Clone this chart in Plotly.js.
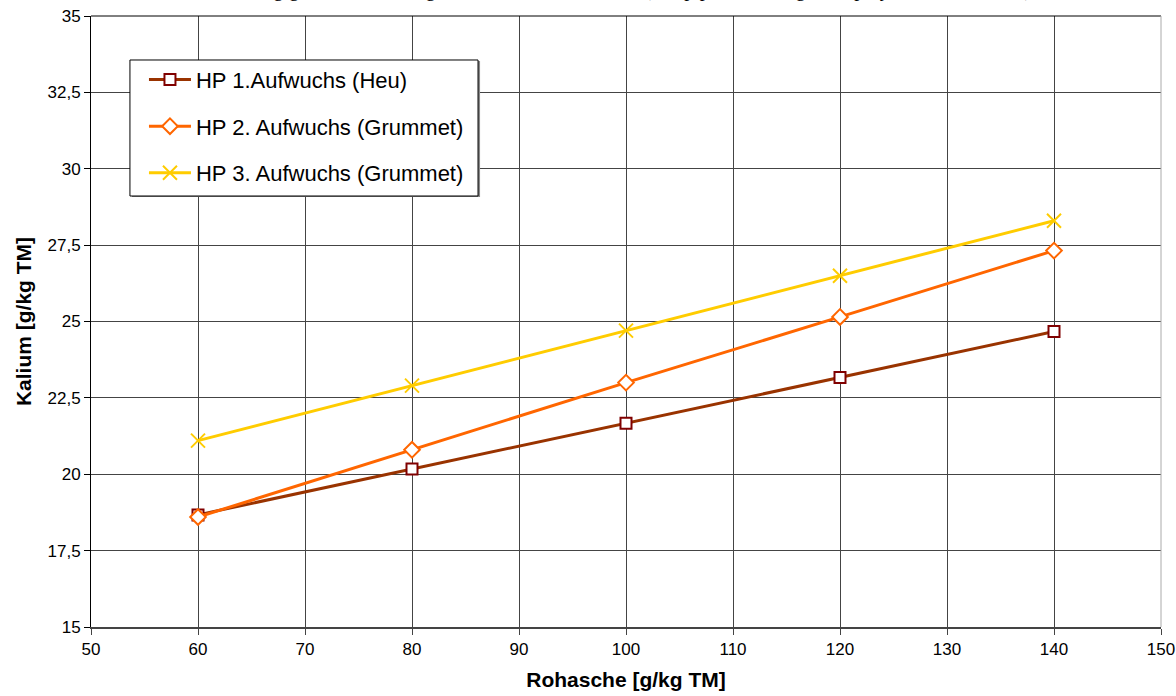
<!DOCTYPE html>
<html>
<head>
<meta charset="utf-8">
<script src="https://cdn.plot.ly/plotly-3.0.1.min.js"></script>
<style>
  html, body { margin: 0; padding: 0; background: #ffffff; }
  #chart { width: 1176px; height: 696px; }
</style>
</head>
<body>
<div id="chart"></div>
<script>
// Rohasche-Stufen (g/kg TM)
const rohasche = [60, 80, 100, 120, 140];

// Kaliumgehalt (g/kg TM) je Aufwuchs
const kaliumHeu = [18.67, 20.17, 21.67, 23.17, 24.67];
const kaliumGrummet2 = [18.6, 20.8, 23.0, 25.15, 27.32];
const kaliumGrummet3 = [21.1, 22.9, 24.7, 26.5, 28.3];

const seriesNames = [
  'HP 1.Aufwuchs (Heu)',
  'HP 2. Aufwuchs (Grummet)',
  'HP 3. Aufwuchs (Grummet)'
];

const yTicks = [15, 17.5, 20, 22.5, 25, 27.5, 30, 32.5, 35];
const xTicks = [50, 60, 70, 80, 90, 100, 110, 120, 130, 140, 150];

const traces = [
  {
    x: rohasche, y: kaliumHeu, name: seriesNames[0],
    type: 'scatter', mode: 'lines+markers', legendgroup: 'g1',
    line: { color: '#993300', width: 3 },
    marker: { symbol: 'square', size: 11, color: '#ffffff',
              line: { color: '#800000', width: 2 } }
  },
  {
    x: rohasche, y: kaliumGrummet2, name: seriesNames[1],
    type: 'scatter', mode: 'lines+markers', legendgroup: 'g2',
    line: { color: '#FF6600', width: 3 },
    marker: { symbol: 'diamond', size: 12, color: '#ffffff',
              line: { color: '#FF6600', width: 2 } }
  },
  {
    x: rohasche, y: kaliumGrummet3, name: seriesNames[2],
    type: 'scatter', mode: 'lines+markers', legendgroup: 'g3',
    line: { color: '#FFCC00', width: 3 },
    marker: { symbol: 'x-thin-open', size: 14, color: '#FFCC00',
              line: { color: '#FFCC00', width: 2 } }
  }
];

const sans = '"Liberation Sans", Arial, sans-serif';
const tickFont = { family: sans, size: 17, color: '#000000' };
const titleFont = { family: sans, size: 21, color: '#000000', weight: 'bold' };

const layout = {
  width: 1176, height: 696,
  margin: { l: 91, r: 15, t: 16, b: 69, pad: 0 },
  paper_bgcolor: '#ffffff', plot_bgcolor: '#ffffff',
  separators: ',.',
  showlegend: true,
  legend: {
    x: 0.0495, y: 0.93, xanchor: 'left', yanchor: 'top',
    bgcolor: 'rgba(0,0,0,0)', borderwidth: 0,
    traceorder: 'grouped', tracegroupgap: 15,
    itemwidth: 42,
    font: { family: sans, size: 22, color: '#000000' }
  },
  xaxis: {
    range: [50, 150], tickvals: xTicks, ticktext: xTicks.map(String),
    showgrid: true, gridcolor: '#444444', gridwidth: 1,
    showline: true, linecolor: '#444444', linewidth: 2, mirror: false,
    ticks: 'outside', ticklen: 6, tickcolor: '#444444',
    tickfont: tickFont, zeroline: false,
    title: { text: '<b>Rohasche [g/kg TM]</b>', font: titleFont, standoff: 14 }
  },
  yaxis: {
    range: [15, 35], tickvals: yTicks,
    ticktext: yTicks.map(v => String(v).replace('.', ',')),
    showgrid: true, gridcolor: '#444444', gridwidth: 1,
    showline: true, linecolor: '#000000', linewidth: 1, mirror: false,
    ticks: 'outside', ticklen: 6, tickcolor: '#000000',
    tickfont: tickFont, zeroline: false,
    title: { text: '<b>Kalium [g/kg TM]</b>', font: titleFont, standoff: 10 }
  },
  shapes: [
    // Rahmen oben und rechts
    { type: 'line', xref: 'paper', yref: 'paper', x0: 0, x1: 1, y0: 1, y1: 1,
      line: { color: '#000000', width: 1 } },
    { type: 'line', xref: 'paper', yref: 'paper', x0: 1, x1: 1, y0: 0, y1: 1,
      line: { color: '#aaaaaa', width: 1 } },
    // Legendenkasten mit leichtem Schatten
    { type: 'rect', xref: 'paper', yref: 'paper', layer: 'above',
      x0: 0.0383, x1: 0.3636, y0: 0.7038, y1: 0.9264,
      fillcolor: '#888888', line: { width: 0 } },
    { type: 'rect', xref: 'paper', yref: 'paper', layer: 'above',
      x0: 0.0364, x1: 0.3617, y0: 0.7054, y1: 0.928,
      fillcolor: '#ffffff', line: { color: '#000000', width: 1 } }
  ],
  annotations: [
    {
      text: 'Abhängigkeit des Kaliumgehaltes von der Rohasche (Hauptproduktionsgebiet, polynomischer Trend)',
      xref: 'paper', yref: 'paper', x: 0.5, y: 1.0215,
      xanchor: 'center', yanchor: 'bottom', showarrow: false,
      font: { family: '"Liberation Serif", "Times New Roman", serif', size: 20, color: '#000000' }
    }
  ]
};

Plotly.newPlot('chart', traces, layout, { displayModeBar: false, staticPlot: true });
</script>
</body>
</html>
